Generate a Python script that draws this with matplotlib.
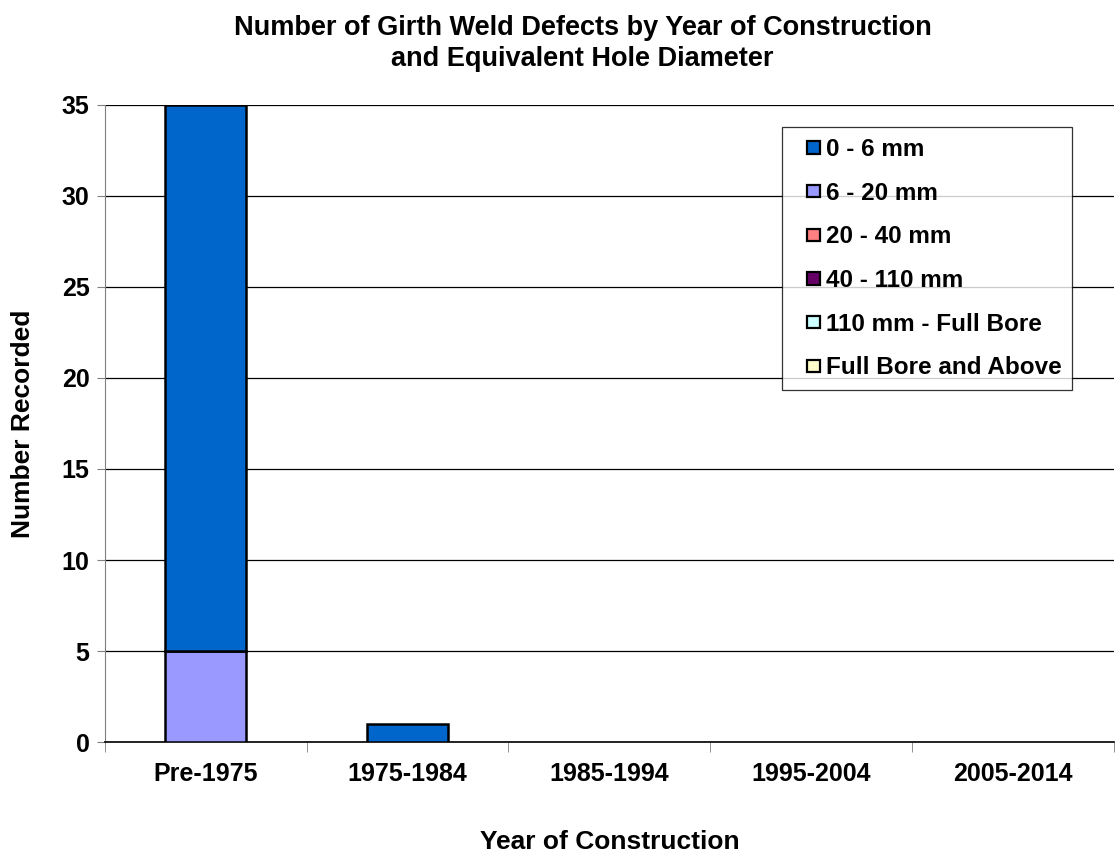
import matplotlib.pyplot as plt
from matplotlib.patches import Patch, Rectangle
from matplotlib.legend_handler import HandlerPatch
import numpy as np

plt.rcParams['font.family'] = ['Liberation Sans', 'DejaVu Sans']
plt.rcParams['font.weight'] = 'bold'

# data
years = ['Pre-1975', '1975-1984', '1985-1994', '1995-2004', '2005-2014']
sizes = ['0 - 6 mm', '6 - 20 mm', '20 - 40 mm', '40 - 110 mm',
         '110 mm - Full Bore', 'Full Bore and Above']
d_0_6 = [30, 1, 0, 0, 0]
d_6_20 = [5, 0, 0, 0, 0]
d_20_40 = [0, 0, 0, 0, 0]
d_40_110 = [0, 0, 0, 0, 0]
d_110_fb = [0, 0, 0, 0, 0]
d_fb_up = [0, 0, 0, 0, 0]

colors = ['#0066CC', '#9999FF', '#FF8080', '#660066', '#CCFFFF', '#FFFFCC']

fig = plt.figure(figsize=(11.16, 8.52), dpi=100)
ax = fig.add_axes([0.094, 0.129, 0.904, 0.748])

x = np.arange(len(years))
# stacking order as in the source chart: 6-20 at the bottom
stack = [(d_6_20, 1), (d_0_6, 0), (d_20_40, 2), (d_40_110, 3), (d_110_fb, 4), (d_fb_up, 5)]
bottom = np.zeros(len(years))
for vals, i in stack:
    vals = np.array(vals, dtype=float)
    lw = [1.8 if v > 0 else 0 for v in vals]
    ax.bar(x, vals, 0.4, bottom=bottom, color=colors[i], edgecolor='black',
           linewidth=lw, zorder=3)
    bottom += vals

ax.set_xlim(-0.5, 4.5)
ax.set_ylim(0, 35)
ax.set_yticks(range(0, 36, 5))
ax.yaxis.grid(True, color='black', linewidth=0.9, zorder=0)
ax.set_xticks(x)
ax.set_xticklabels(years)
ax.set_xticks(np.arange(-0.5, 5, 1), minor=True)
ax.tick_params(axis='x', which='major', length=0, pad=14, labelsize=18)
ax.tick_params(axis='x', which='minor', length=7, direction='out', color='gray')
ax.tick_params(axis='y', length=6, direction='out', color='gray', labelsize=18, pad=5)

for s in ['top', 'right']:
    ax.spines[s].set_visible(False)
ax.spines['left'].set_color('gray')
ax.spines['bottom'].set_color('black')
ax.spines['bottom'].set_linewidth(1.2)

ax.set_ylabel('Number Recorded', fontsize=19, fontweight='bold', labelpad=19)
ax.set_xlabel('Year of Construction', fontsize=19, fontweight='bold', labelpad=32)

fig.suptitle('Number of Girth Weld Defects by Year of Construction\nand Equivalent Hole Diameter',
             fontsize=19.5, fontweight='bold', y=0.982, x=0.522, linespacing=1.25)


# small square swatch sitting at the right end of the handle box
def square(legend, orig_handle, xdescent, ydescent, width, height, fontsize):
    side = 9
    return Rectangle((width - side - xdescent, (height - side) / 2 - ydescent), side, side)


handles = [Patch(facecolor=c, edgecolor='black', linewidth=1.6) for c in colors]
leg = ax.legend(handles, sizes, loc='upper left', bbox_to_anchor=(0.671, 0.965),
                prop={'weight': 'bold', 'size': 17.5},
                handler_map={Patch: HandlerPatch(patch_func=square)},
                handlelength=1.1, handleheight=0.7, handletextpad=0.25,
                labelspacing=0.85, borderpad=0.45, borderaxespad=0,
                frameon=True, fancybox=False, edgecolor='black')
leg.get_frame().set_linewidth(0.9)
leg.set_zorder(5)

fig.savefig('out.png', dpi=100)
